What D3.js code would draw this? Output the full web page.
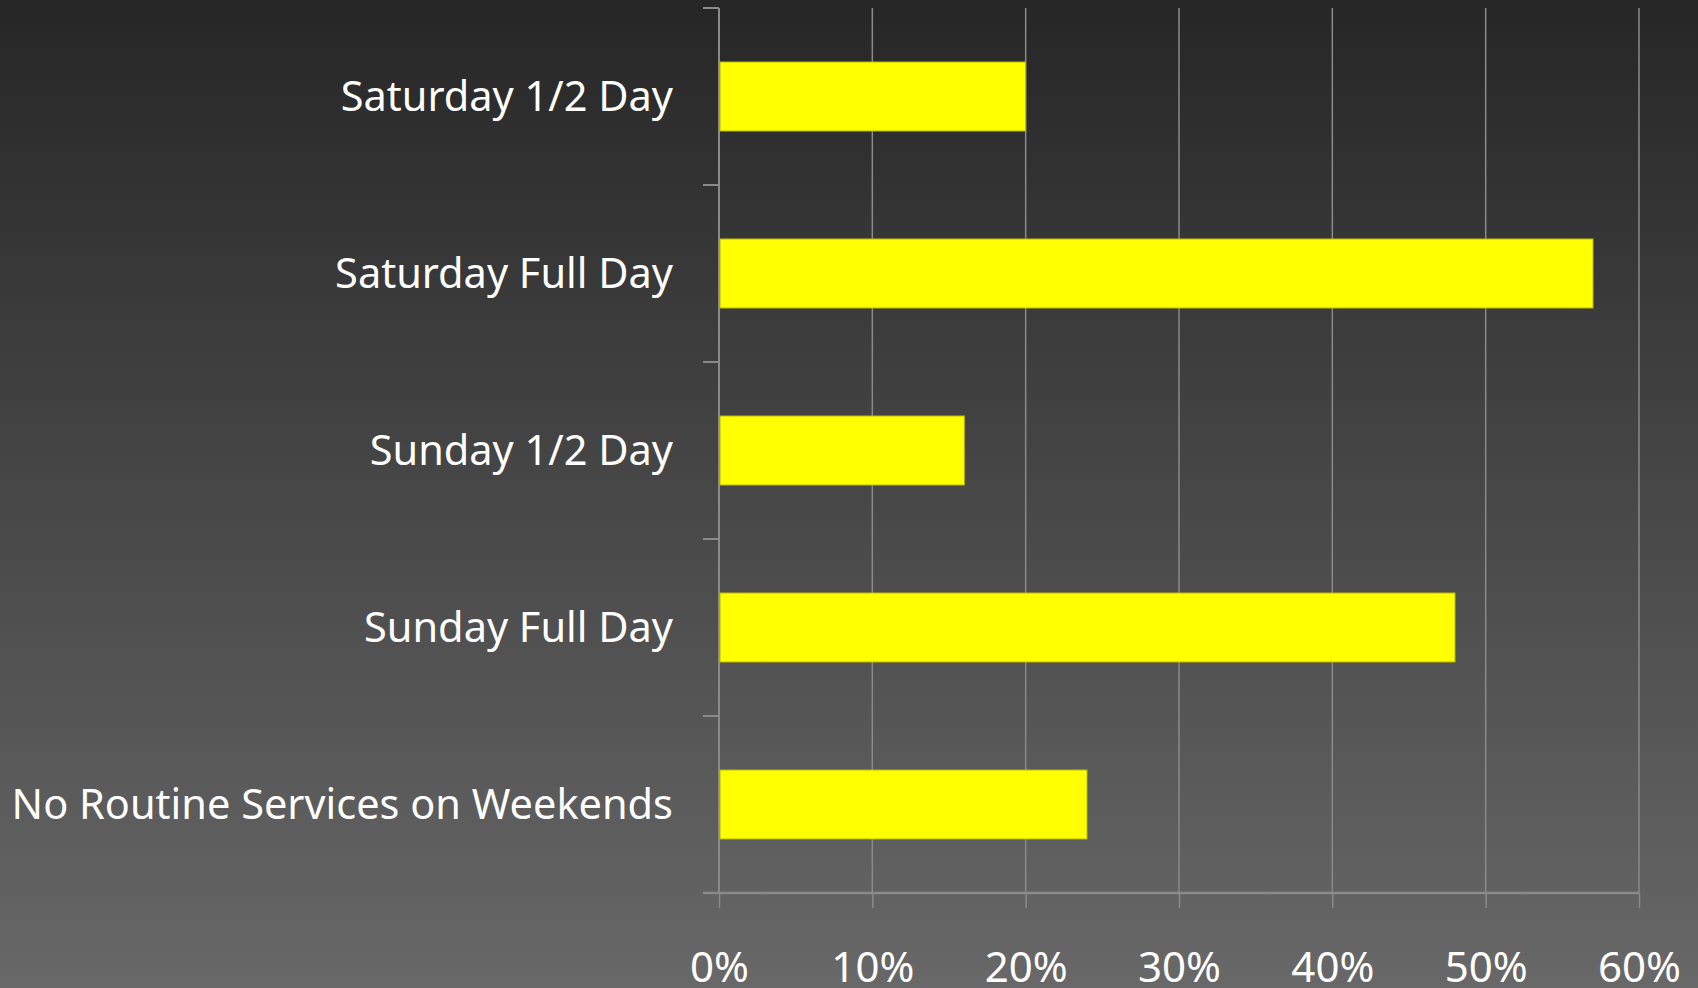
<!DOCTYPE html>
<html>
<head>
<meta charset="utf-8">
<script src="https://cdnjs.cloudflare.com/ajax/libs/d3/7.8.5/d3.min.js"></script>
<style>
  html, body { margin: 0; padding: 0; background: #262626; overflow: hidden; }
  svg { display: block; }
</style>
</head>
<body>
<svg id="chart"></svg>
<script>
const categories = ['Saturday 1/2 Day', 'Saturday Full Day', 'Sunday 1/2 Day', 'Sunday Full Day', 'No Routine Services on Weekends'];
const values = [0.20, 0.57, 0.16, 0.48, 0.24];
const xTicks = [0, 0.1, 0.2, 0.3, 0.4, 0.5, 0.6];

const WIDTH = 1698;
const HEIGHT = 988;
const margin = {top: 8, right: 59, bottom: 95, left: 719};
const FONT = '"Noto Sans", "Open Sans", sans-serif';
const COLOR = {
    bar: '#ffff00',
    barEdge: '#b8b800',
    grid: '#8a8a8a',
    text: '#ffffff'
};

const svg = d3.select('#chart')
    .attr('width', WIDTH)
    .attr('height', HEIGHT);

// background gradient, dark on top to lighter grey at the bottom
const defs = svg.append('defs');
const grad = defs.append('linearGradient')
    .attr('id', 'bg')
    .attr('x1', 0).attr('y1', 0)
    .attr('x2', 0).attr('y2', 1);
grad.append('stop').attr('offset', '0%').attr('stop-color', '#262626');
grad.append('stop').attr('offset', '100%').attr('stop-color', '#686868');
svg.append('rect')
    .attr('width', WIDTH)
    .attr('height', HEIGHT)
    .attr('fill', 'url(#bg)');

const innerW = WIDTH - margin.left - margin.right;
const innerH = HEIGHT - margin.top - margin.bottom;

const g = svg.append('g')
    .attr('transform', `translate(${margin.left},${margin.top})`);

const x = d3.scaleLinear()
    .domain([0, 0.6])
    .range([0, innerW]);

const y = d3.scaleBand()
    .domain(categories)
    .range([0, innerH])
    .padding(0);

// vertical gridlines
g.append('g')
    .selectAll('line')
    .data(xTicks.slice(1))
    .enter().append('line')
    .attr('x1', d => x(d))
    .attr('x2', d => x(d))
    .attr('y1', 0)
    .attr('y2', innerH)
    .attr('stroke', COLOR.grid)
    .attr('stroke-width', 1.5);

// bottom axis
const xAxis = g.append('g')
    .attr('transform', `translate(0,${innerH})`)
    .call(d3.axisBottom(x)
        .tickValues(xTicks)
        .tickFormat(d3.format('.0%'))
        .tickSize(15)
        .tickPadding(44));
xAxis.select('.domain').remove();
xAxis.selectAll('.tick line')
    .attr('stroke', COLOR.grid)
    .attr('stroke-width', 1.5);
xAxis.selectAll('.tick text')
    .attr('fill', COLOR.text)
    .attr('font-family', FONT)
    .attr('font-size', 42);
g.append('line')
    .attr('x1', -16)
    .attr('x2', innerW)
    .attr('y1', innerH)
    .attr('y2', innerH)
    .attr('stroke', COLOR.grid)
    .attr('stroke-width', 2.5);

// left axis: line plus ticks at category boundaries
g.append('line')
    .attr('x1', 0).attr('x2', 0)
    .attr('y1', 0).attr('y2', innerH)
    .attr('stroke', COLOR.grid)
    .attr('stroke-width', 2);
g.append('g')
    .selectAll('line')
    .data(categories)
    .enter().append('line')
    .attr('x1', -16)
    .attr('x2', 0)
    .attr('y1', d => y(d))
    .attr('y2', d => y(d))
    .attr('stroke', COLOR.grid)
    .attr('stroke-width', 2);

// bars
const barH = y.bandwidth() * 0.39;
g.append('g')
    .selectAll('rect')
    .data(categories)
    .enter().append('rect')
    .attr('x', 1)
    .attr('y', d => y(d) + (y.bandwidth() - barH) / 2)
    .attr('width', (d, i) => x(values[i]) - 1)
    .attr('height', barH)
    .attr('fill', COLOR.bar)
    .attr('stroke', COLOR.barEdge)
    .attr('stroke-width', 1);

// category labels
g.append('g')
    .selectAll('text')
    .data(categories)
    .enter().append('text')
    .attr('x', -46)
    .attr('y', d => y(d) + y.bandwidth() / 2)
    .attr('dy', '0.35em')
    .attr('text-anchor', 'end')
    .attr('fill', COLOR.text)
    .attr('font-family', FONT)
    .attr('font-size', 41.5)
    .text(d => d);
</script>
</body>
</html>
